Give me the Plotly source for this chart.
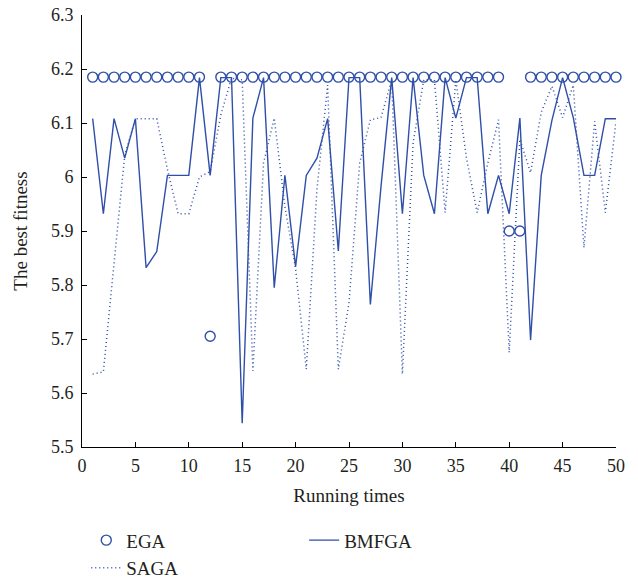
import plotly.graph_objects as go

runs = list(range(1, 51))

ega = [6.185]*11 + [5.705] + [6.185]*27 + [5.90, 5.90] + [6.185]*9

saga = [5.635, 5.639, 5.84, 6.04, 6.108, 6.108, 6.108, 6.014, 5.932, 5.932,
        6.0, 6.01, 6.115, 6.183, 6.18, 5.641, 6.026, 6.109, 5.945, 5.83,
        5.644, 5.977, 6.17, 5.644, 5.767, 6.026, 6.106, 6.11, 6.18, 5.635,
        6.063, 6.18, 6.18, 5.934, 6.18, 6.035, 5.934, 6.026, 6.106, 5.675,
        6.07, 6.008, 6.12, 6.168, 6.11, 6.17, 5.869, 6.103, 5.934, 6.103]

bmfga = [6.108, 5.932, 6.108, 6.035, 6.108, 5.832, 5.862, 6.003, 6.003, 6.003,
         6.184, 6.003, 6.184, 6.184, 5.544, 6.109, 6.184, 5.795, 6.003, 5.834,
         6.003, 6.035, 6.108, 5.863, 6.184, 6.184, 5.764, 5.983, 6.184, 5.932,
         6.184, 6.003, 5.932, 6.184, 6.109, 6.184, 6.184, 5.932, 6.003, 5.932,
         6.109, 5.698, 6.003, 6.105, 6.184, 6.11, 6.003, 6.003, 6.108, 6.108]

x_ticks = list(range(0, 51, 5))
y_ticks = [5.5, 5.6, 5.7, 5.8, 5.9, 6.0, 6.1, 6.2, 6.3]
y_labels = ["5.5", "5.6", "5.7", "5.8", "5.9", "6", "6.1", "6.2", "6.3"]

color = "#2F4FA8"
font_family = "Liberation Serif, DejaVu Serif, serif"
txt = "#231F20"

fig = go.Figure()
fig.add_trace(go.Scatter(x=runs, y=bmfga, mode="lines", name="BMFGA",
                         line=dict(color=color, width=1.4), legend="legend2"))
fig.add_trace(go.Scatter(x=runs, y=saga, mode="lines", name="SAGA",
                         line=dict(color=color, width=1.5, dash="1px,3px"),
                         legend="legend", legendrank=2))
fig.add_trace(go.Scatter(x=runs, y=ega, mode="markers", name="EGA",
                         marker=dict(symbol="circle-open", size=10, color=color,
                                     line=dict(width=1.4, color=color)),
                         legend="legend", legendrank=1, cliponaxis=False))

axis_common = dict(showline=True, linecolor="black", linewidth=1, ticks="inside",
                   ticklen=5, tickcolor="black", showgrid=False, zeroline=False,
                   mirror=False, automargin=False,
                   tickfont=dict(family=font_family, size=18, color=txt))

fig.update_layout(
    width=638, height=578,
    margin=dict(l=82, r=22, t=15, b=131, autoexpand=False),
    paper_bgcolor="white", plot_bgcolor="white",
    font=dict(family=font_family, size=18, color=txt),
    xaxis=dict(range=[0, 50], tickvals=x_ticks, ticklabelstandoff=2,
               title=dict(text="Running times", font=dict(family=font_family, size=19, color=txt), standoff=14),
               **axis_common),
    yaxis=dict(range=[5.5, 6.3], tickvals=y_ticks, ticktext=y_labels, ticklabelstandoff=4,
               title=dict(text="The best fitness", font=dict(family=font_family, size=19, color=txt), standoff=18),
               **axis_common),
    legend=dict(x=0.008, y=-0.172, xanchor="left", yanchor="top",
                bgcolor="rgba(0,0,0,0)", font=dict(family=font_family, size=19, color=txt),
                tracegroupgap=0, itemwidth=30),
    legend2=dict(x=0.416, y=-0.172, xanchor="left", yanchor="top",
                 bgcolor="rgba(0,0,0,0)", font=dict(family=font_family, size=19, color=txt),
                 itemwidth=30),
)

fig.write_html("out.html", config={"displayModeBar": False},
               post_script="document.body.style.margin='0';document.body.style.overflow='hidden';")
